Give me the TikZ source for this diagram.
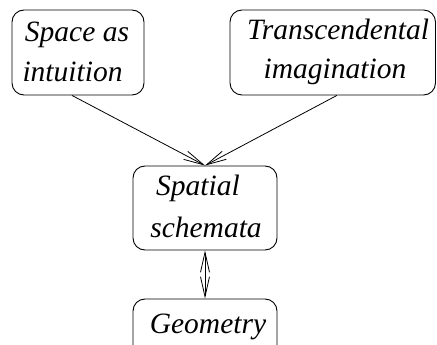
\documentclass[tikz,border=0pt]{standalone}
\usepackage{fontspec}
\setmainfont{Liberation Serif}[ItalicFont={Liberation Serif Italic}]
\usetikzlibrary{arrows.meta,calc}
\begin{document}
\begin{tikzpicture}[x=1pt,y=-1pt,
  box/.style={draw,rounded corners=12pt,line width=0.9pt,inner sep=0pt},
  lbl/.style={anchor=base,inner sep=0pt,font=\fontsize{29.5}{35}\selectfont\itshape},
  arr/.style={line width=0.8pt,-{Straight Barb[length=20pt,width=9pt]}},
  dbl/.style={line width=0.8pt,{Straight Barb[length=20pt,width=9pt]}-{Straight Barb[length=20pt,width=9pt]}}]
\useasboundingbox (0,0) rectangle (437,345);
\clip (0,0) rectangle (437,345);
% boxes
\node[box,minimum width=132pt,minimum height=85pt] (space) at (78,52.5) {};
\node[box,minimum width=205.5pt,minimum height=85pt] (trans) at (332.75,52.5) {};
\node[box,minimum width=144pt,minimum height=84pt] (spatial) at (205,208) {};
\node[box,minimum width=144pt,minimum height=85pt] (geom) at (205,341.5) {};
% texts
\node[lbl] (space1) at (77,42) {Space as};
\node[lbl] (space2) at (72.5,82) {intuition};
\node[lbl] (trans1) at (338,40) {Transcendental};
\node[lbl] (trans2) at (335,79) {imagination};
\node[lbl] (spatial1) at (198,195) {Spatial};
\node[lbl] (spatial2) at (206,237) {schemata};
\node[lbl] (geom1) at (208,333) {Geometry};
% connectors
\draw[arr] ($(space.south west)!0.455!(space.south east)$) -- (spatial.north);
\draw[arr] ($(trans.south west)!0.52!(trans.south east)$) -- (spatial.north);
\draw[dbl] (spatial.south) -- (geom.north);
\end{tikzpicture}
\end{document}
